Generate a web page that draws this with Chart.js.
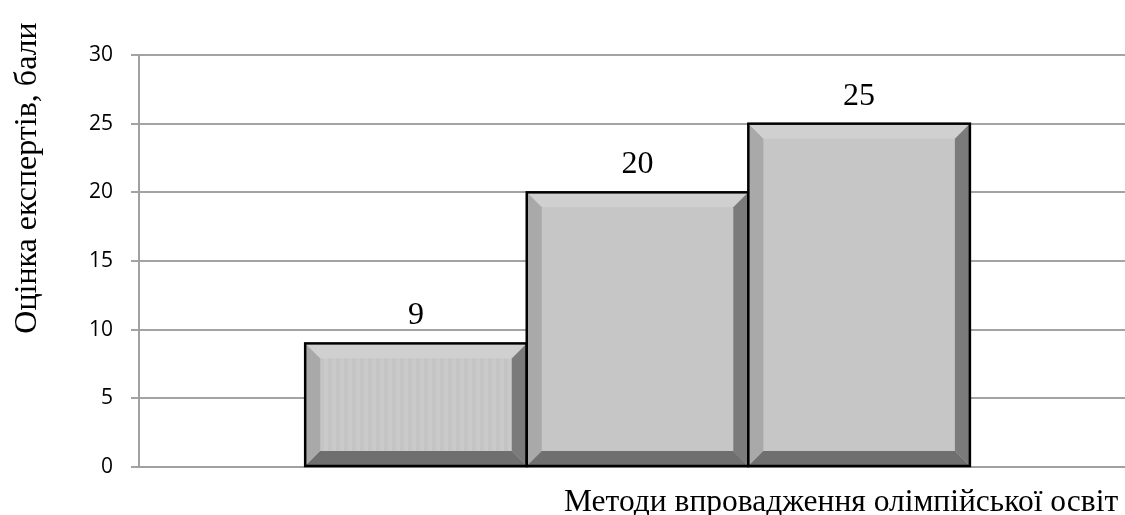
<!DOCTYPE html>
<html>
<head>
<meta charset="utf-8">
<script src="https://cdn.jsdelivr.net/npm/chart.js@4/dist/chart.umd.min.js"></script>
<style>
  html, body { margin: 0; padding: 0; background: #fff; }
  #wrap { width: 1125px; height: 515px; position: relative; }
</style>
</head>
<body>
<div id="wrap"><canvas id="barChart"></canvas></div>
<script>
// chart data
const categories = ['Метод 1', 'Метод 2', 'Метод 3'];
const positions = [1, 2, 3];
const values = [9, 20, 25];
const yTicks = [0, 5, 10, 15, 20, 25, 30];
const yTitle = 'Оцінка експертів, бали';
const xTitle = 'Методи впровадження олімпійської освіт';

// faint vertical stripes on the first bar, like the picture
function stripePattern(ctx) {
  const c = document.createElement('canvas');
  c.width = 8; c.height = 8;
  const p = c.getContext('2d');
  p.fillStyle = '#cacaca';
  p.fillRect(0, 0, 8, 8);
  p.fillStyle = '#c4c4c4';
  p.fillRect(0, 0, 4, 8);
  return ctx.createPattern(c, 'repeat');
}

function quad(ctx, pts, color) {
  ctx.beginPath();
  ctx.moveTo(pts[0][0], pts[0][1]);
  for (let i = 1; i < pts.length; i++) ctx.lineTo(pts[i][0], pts[i][1]);
  ctx.closePath();
  ctx.fillStyle = color;
  ctx.fill();
}

// bevel edges, black outline and value labels
const bevelPlugin = {
  id: 'bevel',
  afterDatasetsDraw(chart) {
    const ctx = chart.ctx;
    const meta = chart.getDatasetMeta(0);
    ctx.save();
    meta.data.forEach((bar, i) => {
      const { x, y, base, width } = bar.getProps(['x', 'y', 'base', 'width'], true);
      const l = x - width / 2, r = x + width / 2, t = y, b = base;
      const d = 15;
      quad(ctx, [[l, t], [r, t], [r - d, t + d], [l + d, t + d]], '#d0d0d0');
      quad(ctx, [[l, t], [l + d, t + d], [l + d, b - d], [l, b]], '#a9a9a9');
      quad(ctx, [[r, t], [r, b], [r - d, b - d], [r - d, t + d]], '#7b7b7b');
      quad(ctx, [[l, b], [l + d, b - d], [r - d, b - d], [r, b]], '#6f6f6f');
      ctx.strokeStyle = '#000';
      ctx.lineWidth = 2.5;
      ctx.strokeRect(l, t, r - l, b - t);

      ctx.fillStyle = '#000';
      ctx.font = '32px "Liberation Serif", "Times New Roman", serif';
      ctx.textAlign = 'center';
      ctx.textBaseline = 'alphabetic';
      ctx.fillText(String(values[i]), x, t - 19);
    });
    ctx.restore();
  }
};

// axis titles, placed the way the picture crops them
const titlePlugin = {
  id: 'titles',
  afterDraw(chart) {
    const ctx = chart.ctx;
    ctx.save();
    ctx.fillStyle = '#000';
    ctx.font = '31.5px "Liberation Serif", "Times New Roman", serif';
    ctx.textBaseline = 'alphabetic';
    ctx.textAlign = 'left';
    ctx.fillText(xTitle, 564, 511);

    ctx.font = '32px "Liberation Serif", "Times New Roman", serif';
    ctx.translate(36, 178);
    ctx.rotate(-Math.PI / 2);
    ctx.textAlign = 'center';
    ctx.fillText(yTitle, 0, 0);
    ctx.restore();
  }
};

const barCtx = document.getElementById('barChart').getContext('2d');
const barChart = new Chart(barCtx, {
  type: 'bar',
  data: {
    labels: categories,
    datasets: [{
      label: yTitle,
      data: positions.map((p, i) => ({ x: p, y: values[i] })),
      backgroundColor: (c) => c.dataIndex === 0 ? stripePattern(c.chart.ctx) : '#c6c6c6',
      borderWidth: 0,
      barPercentage: 1,
      categoryPercentage: 1
    }]
  },
  options: {
    responsive: true,
    maintainAspectRatio: false,
    animation: false,
    layout: { padding: { top: 55, right: 0, bottom: 48, left: 0 } },
    plugins: {
      legend: { display: false },
      tooltip: { enabled: false }
    },
    scales: {
      x: {
        type: 'linear',
        offset: false,
        min: -0.25,
        max: 4.2,
        afterBuildTicks: (s) => { s.ticks = positions.map(v => ({ value: v })); },
        ticks: { display: false },
        grid: { display: false },
        border: { display: true, color: '#a0a0a0', width: 2 },
        afterFit: (s) => { s.height = 0; }
      },
      y: {
        min: 0,
        max: 30,
        afterBuildTicks: (s) => { s.ticks = yTicks.map(v => ({ value: v })); },
        ticks: {
          color: '#000',
          padding: 18,
          font: { family: '"Open Sans", sans-serif', size: 21 }
        },
        grid: { color: '#a3a3a3', lineWidth: 2, tickLength: 8 },
        border: { display: true, color: '#a0a0a0', width: 2 },
        afterFit: (s) => { s.width = 139; }
      }
    }
  },
  plugins: [bevelPlugin, titlePlugin]
});
</script>
</body>
</html>
